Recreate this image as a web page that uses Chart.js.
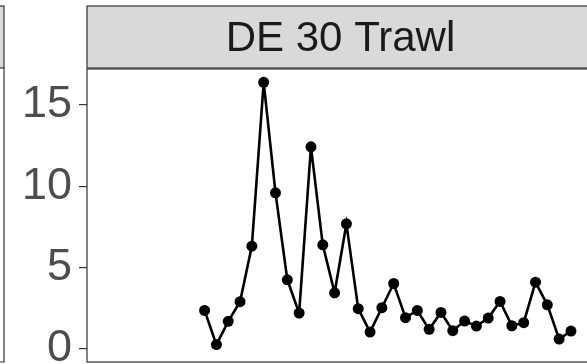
<!DOCTYPE html>
<html>
<head>
<meta charset="utf-8">
<script src="https://cdn.jsdelivr.net/npm/chart.js@4.4.1/dist/chart.umd.min.js"></script>
<style>
  html, body { margin: 0; padding: 0; background: #fff; overflow: hidden; }
  #wrap { width: 594px; height: 364px; }
</style>
</head>
<body>
<div id="wrap"><canvas id="chart" width="594" height="364"></canvas></div>
<script>
// Data
const panelTitle = 'DE 30 Trawl';
const years = [1989, 1990, 1991, 1992, 1993, 1994, 1995, 1996, 1997, 1998, 1999, 2000,
    2001, 2002, 2003, 2004, 2005, 2006, 2007, 2008, 2009, 2010, 2011, 2012,
    2013, 2014, 2015, 2016, 2017, 2018, 2019, 2020];
const values = [2.35, 0.25, 1.68, 2.89, 6.31, 16.39, 9.59, 4.24, 2.19, 12.42, 6.39, 3.44,
    7.68, 2.46, 1.02, 2.52, 4.01, 1.91, 2.35, 1.19, 2.23, 1.11, 1.70, 1.39,
    1.88, 2.91, 1.41, 1.60, 4.09, 2.70, 0.59, 1.08];
const yTicks = [0, 5, 10, 15];

const points = years.map((y, i) => ({ x: y, y: values[i] }));

// Facet strips + panel borders (ggplot look)
const facetPlugin = {
    id: 'facet',
    beforeDatasetsDraw(chart) {
        const ctx = chart.ctx;
        const a = chart.chartArea;
        ctx.save();
        ctx.lineWidth = 1.2;
        ctx.strokeStyle = '#333333';

        // partial panel on the left
        ctx.fillStyle = '#D9D9D9';
        ctx.fillRect(-10, 6, 14, 62);
        ctx.strokeRect(-10, 6, 14, 62);
        ctx.beginPath();
        ctx.moveTo(4, 68);
        ctx.lineTo(4, a.bottom);
        ctx.lineTo(-10, a.bottom);
        ctx.stroke();

        // strip of this panel
        ctx.fillRect(a.left, 6, a.right - a.left, 62);
        ctx.strokeRect(a.left, 6, a.right - a.left, 62);
        ctx.fillStyle = '#1A1A1A';
        ctx.font = '42px "Liberation Sans", Arial, sans-serif';
        ctx.textAlign = 'center';
        ctx.textBaseline = 'middle';
        ctx.fillText(panelTitle, (a.left + a.right) / 2, 39);

        // panel border
        ctx.strokeRect(a.left, a.top, a.right - a.left, a.bottom - a.top);
        ctx.restore();
    }
};

const ctx = document.getElementById('chart').getContext('2d');
const chart = new Chart(ctx, {
    type: 'line',
    data: {
        datasets: [{
            data: points,
            borderColor: '#000000',
            backgroundColor: '#000000',
            borderWidth: 2.6,
            pointRadius: 5.5,
            pointBorderWidth: 0,
            pointBackgroundColor: '#000000',
            tension: 0,
            clip: false
        }]
    },
    options: {
        responsive: false,
        animation: false,
        devicePixelRatio: 1,
        layout: {
            autoPadding: false,
            padding: { top: 69, bottom: 2, left: 0, right: 0 }
        },
        plugins: {
            legend: { display: false },
            tooltip: { enabled: false }
        },
        scales: {
            x: {
                type: 'linear',
                display: false,
                min: 1979.05,
                max: 2021.95
            },
            y: {
                type: 'linear',
                min: -0.82,
                max: 17.21,
                afterFit: function (scale) {
                    scale.width = 87;
                    scale.paddingTop = 0;
                    scale.paddingBottom = 0;
                },
                afterBuildTicks: function (scale) {
                    scale.ticks = yTicks.map(v => ({ value: v }));
                },
                grid: {
                    drawOnChartArea: false,
                    drawTicks: true,
                    tickLength: 8,
                    color: '#333333',
                    lineWidth: 1.2
                },
                border: { display: false },
                ticks: {
                    padding: 7,
                    color: '#4D4D4D',
                    font: { family: '"Liberation Sans", Arial, sans-serif', size: 45 }
                }
            }
        }
    },
    plugins: [facetPlugin]
});
</script>
</body>
</html>
